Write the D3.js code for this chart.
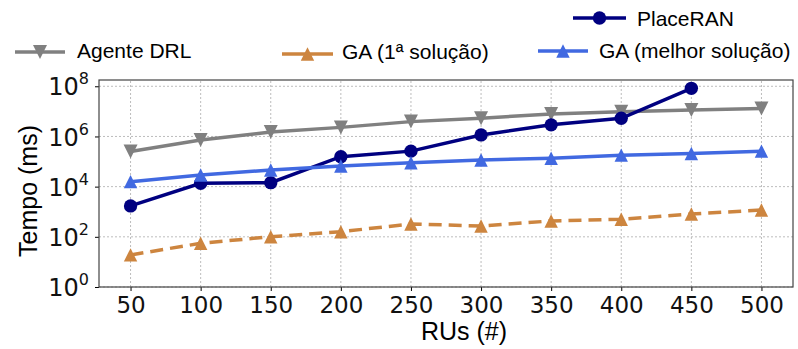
<!DOCTYPE html>
<html>
<head>
<meta charset="utf-8">
<script src="https://cdn.jsdelivr.net/npm/d3@7"></script>
<style>
  body { margin: 0; background: #fff; }
  svg { display: block; }
</style>
</head>
<body>
<svg id="chart"></svg>
<script>
// RUs on the x axis
const rus = [50, 100, 150, 200, 250, 300, 350, 400, 450, 500];

// Tempo (ms) per series
const agenteDRL = [2.5e5, 7.2e5, 1.5e6, 2.3e6, 3.9e6, 5.3e6, 7.9e6, 9.7e6, 1.13e7, 1.3e7];
const placeRAN = [1.7e3, 1.36e4, 1.44e4, 1.56e5, 2.6e5, 1.15e6, 2.9e6, 5.3e6, 8.3e7];
const gaPrimeira = [19, 55, 101, 160, 325, 270, 430, 500, 810, 1170];
const gaMelhor = [1.58e4, 2.9e4, 4.6e4, 6.6e4, 9.0e4, 1.15e5, 1.35e5, 1.8e5, 2.1e5, 2.6e5];

const yTickExps = [0, 2, 4, 6, 8];

const W = 798, H = 349;
const margin = { top: 80, right: 5, bottom: 62, left: 99 };

const svg = d3.select('#chart')
    .attr('width', W)
    .attr('height', H);

const x = d3.scaleLinear()
    .domain([27.5, 522.5])
    .range([margin.left, W - margin.right]);

const y = d3.scaleLog()
    .domain([1, Math.pow(10, 8.25)])
    .range([H - margin.bottom, margin.top]);

// matplotlib-like triangles (bbox centred)
const triUp = {
    draw(ctx, size) {
        const s = Math.sqrt(size) / 2;
        ctx.moveTo(0, -s);
        ctx.lineTo(s, s);
        ctx.lineTo(-s, s);
        ctx.closePath();
    }
};
const triDown = {
    draw(ctx, size) {
        const s = Math.sqrt(size) / 2;
        ctx.moveTo(0, s);
        ctx.lineTo(s, -s);
        ctx.lineTo(-s, -s);
        ctx.closePath();
    }
};

// grid
const grid = svg.append('g');
grid.selectAll('line.gx')
    .data(rus)
    .join('line')
    .attr('x1', d => x(d)).attr('x2', d => x(d))
    .attr('y1', y.range()[0]).attr('y2', y.range()[1])
    .attr('stroke', '#b5b5b5')
    .attr('stroke-width', 0.9)
    .attr('stroke-dasharray', '2,2');
grid.selectAll('line.gy')
    .data(yTickExps)
    .join('line')
    .attr('x1', x.range()[0]).attr('x2', x.range()[1])
    .attr('y1', d => y(Math.pow(10, d))).attr('y2', d => y(Math.pow(10, d)))
    .attr('stroke', '#b5b5b5')
    .attr('stroke-width', 0.9)
    .attr('stroke-dasharray', '2,2');

// axes
const xAxis = svg.append('g')
    .attr('transform', `translate(0, ${y.range()[0]})`)
    .call(d3.axisBottom(x).tickValues(rus).tickSize(4).tickPadding(6));
xAxis.select('.domain').remove();
xAxis.selectAll('text')
    .attr('font-family', 'DejaVu Sans')
    .attr('font-size', 23)
    .attr('fill', '#111');

const yAxis = svg.append('g')
    .attr('transform', `translate(${x.range()[0]}, 0)`)
    .call(d3.axisLeft(y).tickValues(yTickExps.map(e => Math.pow(10, e))).tickSize(4).tickFormat(''));
yAxis.select('.domain').remove();

// y tick labels with superscript
yAxis.selectAll('.tick')
    .append('text')
    .attr('x', -10)
    .attr('dy', '0.36em')
    .attr('font-family', 'DejaVu Sans')
    .attr('font-size', 24)
    .attr('fill', '#111')
    .attr('text-anchor', 'end')
    .each(function(d) {
        const t = d3.select(this);
        t.append('tspan').text('10');
        t.append('tspan')
            .attr('dy', -11)
            .attr('font-size', 16)
            .text(Math.round(Math.log10(d)));
    });

// frame
svg.append('rect')
    .attr('x', x.range()[0])
    .attr('y', y.range()[1])
    .attr('width', x.range()[1] - x.range()[0])
    .attr('height', y.range()[0] - y.range()[1])
    .attr('fill', 'none')
    .attr('stroke', '#444')
    .attr('stroke-width', 1.2);

// series
const series = [
    { name: 'Agente DRL', values: agenteDRL, color: '#808080', symbol: triDown, size: 196, dash: null },
    { name: 'GA (1ª solução)', values: gaPrimeira, color: '#cd853f', symbol: triUp, size: 180, dash: '13,7' },
    { name: 'PlaceRAN', values: placeRAN, color: '#000080', symbol: d3.symbolCircle, size: 140, dash: null },
    { name: 'GA (melhor solução)', values: gaMelhor, color: '#4169e1', symbol: triUp, size: 180, dash: null }
];

const line = d3.line()
    .x(d => x(d[0]))
    .y(d => y(d[1]));

series.forEach(s => {
    const pts = s.values.map((v, i) => [rus[i], v]);
    const g = svg.append('g');
    g.append('path')
        .datum(pts)
        .attr('fill', 'none')
        .attr('stroke', s.color)
        .attr('stroke-width', 3.5)
        .attr('stroke-dasharray', s.dash)
        .attr('d', line);
    g.selectAll('path.m')
        .data(pts)
        .join('path')
        .attr('transform', d => `translate(${x(d[0])}, ${y(d[1])})`)
        .attr('d', d3.symbol(s.symbol, s.size))
        .attr('fill', s.color);
});

// legend
const legendPos = {
    'PlaceRAN': { x1: 573, x2: 626, ly: 18, tx: 637, ty: 26 },
    'Agente DRL': { x1: 15, x2: 65, ly: 52, tx: 77, ty: 58 },
    'GA (1ª solução)': { x1: 282, x2: 333, ly: 54, tx: 342, ty: 59 },
    'GA (melhor solução)': { x1: 538, x2: 588, ly: 51, tx: 599, ty: 58 }
};

series.forEach(s => {
    const p = legendPos[s.name];
    const g = svg.append('g');
    g.append('line')
        .attr('x1', p.x1).attr('x2', p.x2)
        .attr('y1', p.ly).attr('y2', p.ly)
        .attr('stroke', s.color)
        .attr('stroke-width', 3.5);
    g.append('path')
        .attr('transform', `translate(${(p.x1 + p.x2) / 2}, ${p.ly})`)
        .attr('d', d3.symbol(s.symbol, s.size))
        .attr('fill', s.color);
    g.append('text')
        .attr('x', p.tx)
        .attr('y', p.ty)
        .attr('font-family', 'Liberation Sans, Arial, sans-serif')
        .attr('font-size', 21)
        .attr('fill', '#000')
        .text(s.name);
});

// axis labels
svg.append('text')
    .attr('x', 464)
    .attr('y', 340)
    .attr('text-anchor', 'middle')
    .attr('font-family', 'Liberation Sans, Arial, sans-serif')
    .attr('font-size', 25)
    .attr('fill', '#000')
    .text('RUs (#)');

svg.append('text')
    .attr('transform', 'translate(37, 191) rotate(-90)')
    .attr('text-anchor', 'middle')
    .attr('font-family', 'Liberation Sans, Arial, sans-serif')
    .attr('font-size', 25)
    .attr('fill', '#000')
    .text('Tempo (ms)');
</script>
</body>
</html>
